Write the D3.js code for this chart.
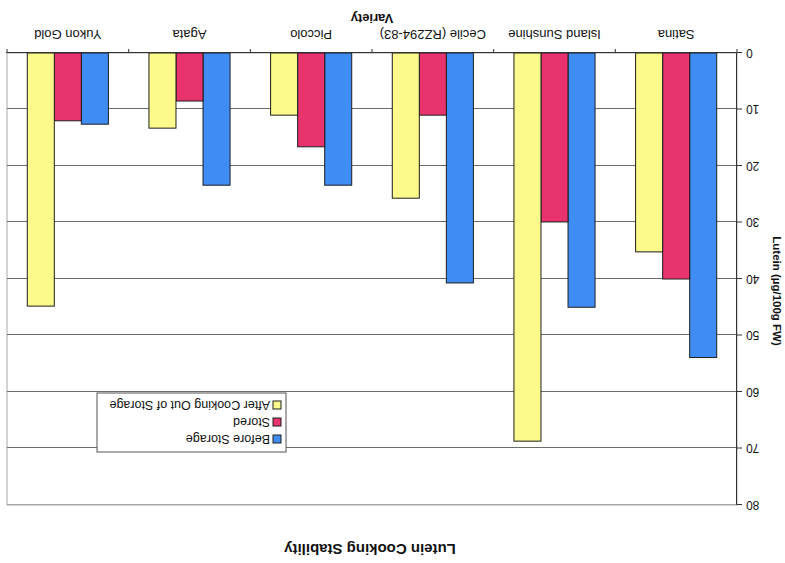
<!DOCTYPE html>
<html>
<head>
<meta charset="utf-8">
<script src="https://cdn.jsdelivr.net/npm/d3@7"></script>
<style>
  html, body { margin: 0; padding: 0; background: #fff; }
  svg { display: block; font-family: "Liberation Sans", Arial, sans-serif; }
</style>
</head>
<body>
<svg id="chart" width="785" height="563"></svg>
<script>
// Lutein content (µg/100g FW) per variety
const categories = ["Satina", "Island Sunshine", "Cecile (RZ294-83)", "Piccolo", "Agata", "Yukon Gold"];
const seriesNames = ["Before Storage", "Stored", "After Cooking Out of Storage"];
const beforeStorage = [53.9, 45.0, 40.7, 23.4, 23.4, 12.6];
const stored = [40.0, 29.9, 11.0, 16.6, 8.5, 12.0];
const afterCooking = [35.2, 68.7, 25.7, 11.0, 13.3, 44.8];
const yTicks = [0, 10, 20, 30, 40, 50, 60, 70, 80];
const seriesColors = ["#3f8cf2", "#e8336d", "#fdfa8c"];

const W = 785, H = 563;
const margin = { left: 48, right: 7, top: 58, bottom: 53 };

const svg = d3.select("#chart");
// The whole figure is laid out normally, then turned half a revolution.
const root = svg.append("g").attr("transform", `rotate(180 ${W / 2} ${H / 2})`);

const x0 = d3.scaleBand().domain(categories).range([margin.left, W - margin.right]).paddingInner(0).paddingOuter(0);
const x1 = d3.scaleBand().domain(seriesNames)
  .range([x0.bandwidth() / 6, x0.bandwidth() * 5 / 6]).padding(0);
const y = d3.scaleLinear().domain([0, 80]).range([H - margin.bottom, margin.top]);

// plot frame (light)
root.append("rect")
  .attr("x", margin.left).attr("y", margin.top)
  .attr("width", W - margin.left - margin.right)
  .attr("height", y(0) - margin.top)
  .attr("fill", "none").attr("stroke", "#a8a8a8").attr("stroke-width", 1);

// gridlines
root.append("g").selectAll("line").data(yTicks.filter(t => t > 0)).join("line")
  .attr("x1", margin.left).attr("x2", W - margin.right)
  .attr("y1", d => Math.round(y(d)) + 0.5).attr("y2", d => Math.round(y(d)) + 0.5)
  .attr("stroke", d => d === 80 ? "#a8a8a8" : "#6a6a6a").attr("stroke-width", 1);

// bars
const series = [beforeStorage, stored, afterCooking];
const groups = root.append("g").selectAll("g").data(categories).join("g")
  .attr("transform", d => `translate(${x0(d)},0)`);
groups.selectAll("rect")
  .data((c, i) => seriesNames.map((s, k) => ({ s, v: series[k][i], k })))
  .join("rect")
  .attr("x", d => x1(d.s))
  .attr("width", x1.bandwidth())
  .attr("y", d => y(d.v))
  .attr("height", d => y(0) - y(d.v))
  .attr("fill", d => seriesColors[d.k])
  .attr("stroke", "#1e1e1e").attr("stroke-width", 1);

// value axis
const yAxis = root.append("g").attr("transform", `translate(${margin.left},0)`)
  .call(d3.axisLeft(y).tickValues(yTicks).tickSize(5).tickPadding(4));
yAxis.select(".domain").attr("stroke", "#333");
yAxis.selectAll(".tick line").attr("stroke", "#333");
yAxis.selectAll("text").attr("font-size", 12).attr("fill", "#111")
  .attr("font-family", "Liberation Sans, Arial, sans-serif");

// category axis
const xAxis = root.append("g").attr("transform", `translate(0,${y(0)})`)
  .call(d3.axisBottom(x0).tickSize(0).tickPadding(14));
xAxis.select(".domain").attr("stroke", "#333");
xAxis.selectAll("text").attr("font-size", 13).attr("fill", "#111")
  .attr("font-family", "Liberation Sans, Arial, sans-serif");
const bounds = categories.map(c => x0(c)).concat([W - margin.right]);
xAxis.append("g").selectAll("line").data(bounds).join("line")
  .attr("x1", d => d).attr("x2", d => d).attr("y1", 0).attr("y2", 4)
  .attr("stroke", "#333");

// titles
root.append("text").attr("x", (margin.left + W - margin.right) / 2 + 2).attr("y", 19)
  .attr("text-anchor", "middle").attr("font-size", 15).attr("font-weight", "bold")
  .attr("fill", "#111").text("Lutein Cooking Stability");
root.append("text").attr("x", (margin.left + W - margin.right) / 2).attr("y", 549)
  .attr("text-anchor", "middle").attr("font-size", 13).attr("font-weight", "bold")
  .attr("fill", "#111").text("Variety");
root.append("text")
  .attr("transform", `translate(12,${y(40) - 12}) rotate(-90)`)
  .attr("text-anchor", "middle").attr("font-size", 11.5).attr("font-weight", "bold")
  .attr("fill", "#111").text("Lutein (µg/100g FW)");

// legend
const lg = root.append("g").attr("transform", "translate(499,111)");
lg.append("rect").attr("width", 189).attr("height", 59)
  .attr("fill", "#fff").attr("stroke", "#555").attr("stroke-width", 1);
const items = lg.selectAll("g.item").data(seriesNames).join("g").attr("class", "item")
  .attr("transform", (d, i) => `translate(5,${13 + i * 17})`);
items.append("rect").attr("x", 0).attr("y", -4).attr("width", 8).attr("height", 8)
  .attr("fill", (d, i) => seriesColors[i]).attr("stroke", "#1e1e1e");
items.append("text").attr("x", 11).attr("y", 4.5).attr("font-size", 12.5)
  .attr("fill", "#111").text(d => d);
</script>
</body>
</html>
